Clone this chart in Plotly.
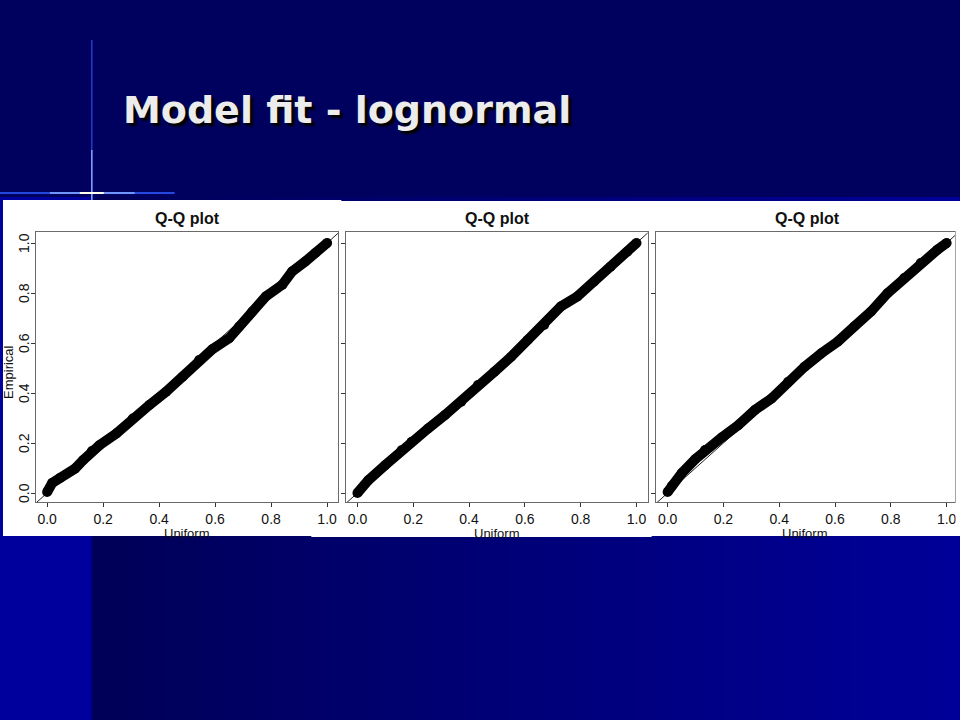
import plotly.graph_objects as go

W, H = 960, 720

# ---------------- data ----------------
slide_title = "Model fit - lognormal"
panel_title = "Q-Q plot"
x_label = "Uniform"
y_label = "Empirical"
tick_vals = [0.0, 0.2, 0.4, 0.6, 0.8, 1.0]
tick_text = ["0.0", "0.2", "0.4", "0.6", "0.8", "1.0"]

uniform_1 = [0.0, 0.018, 0.046, 0.1, 0.128, 0.16, 0.187, 0.247, 0.306, 0.365, 0.425,
             0.484, 0.543, 0.59, 0.65, 0.686, 0.733, 0.781, 0.84, 0.875, 0.922, 0.958, 1.0]
empirical_1 = [0.004, 0.04, 0.06, 0.098, 0.131, 0.168, 0.191, 0.238, 0.298, 0.352, 0.405,
               0.465, 0.532, 0.575, 0.619, 0.666, 0.726, 0.786, 0.833, 0.886, 0.926, 0.96, 1.0]

uniform_2 = [0.0, 0.039, 0.099, 0.158, 0.194, 0.253, 0.313, 0.372, 0.432, 0.491,
             0.551, 0.61, 0.669, 0.729, 0.788, 0.848, 0.907, 0.967, 1.0]
empirical_2 = [0.0, 0.051, 0.111, 0.171, 0.205, 0.258, 0.311, 0.365, 0.432, 0.485,
               0.545, 0.612, 0.672, 0.746, 0.786, 0.846, 0.905, 0.965, 1.0]

uniform_3 = [0.0, 0.015, 0.051, 0.099, 0.134, 0.194, 0.253, 0.313, 0.372, 0.432, 0.491,
             0.551, 0.61, 0.669, 0.729, 0.788, 0.848, 0.907, 0.967, 1.0]
empirical_3 = [0.004, 0.028, 0.08, 0.135, 0.172, 0.222, 0.271, 0.332, 0.378, 0.445, 0.505,
               0.559, 0.606, 0.666, 0.726, 0.799, 0.86, 0.92, 0.973, 1.0]

panels = [(uniform_1, empirical_1), (uniform_2, empirical_2), (uniform_3, empirical_3)]

# ---------------- layout geometry (pixels) ----------------
def px(x):
    return x / W

def py(y):
    return 1 - y / H

boxes = [  # left, right, top, bottom (pixels)
    (36, 339, 232, 502),
    (347, 649, 232, 502),
    (657, 957, 232, 502),
]
xranges = [[-0.04, 1.04], [-0.04, 1.04], [-0.043, 1.03]]
yrange = [-0.036, 1.044]

fig = go.Figure()

for i, (u, e) in enumerate(panels):
    sfx = "" if i == 0 else str(i + 1)
    fig.add_trace(go.Scatter(
        x=[-0.1, 1.1], y=[-0.1, 1.1], mode="lines",
        line=dict(color="#222222", width=1),
        xaxis="x" + sfx, yaxis="y" + sfx, hoverinfo="skip", showlegend=False))
    fig.add_trace(go.Scatter(
        x=u, y=e, mode="lines+markers",
        line=dict(color="#000000", width=10),
        marker=dict(color="#000000", size=10),
        xaxis="x" + sfx, yaxis="y" + sfx, showlegend=False, name=panel_title))

font_axis = dict(family="Liberation Sans, Arial, sans-serif", size=14, color="#111111")

layout_axes = {}
for i, (l, r, t, b) in enumerate(boxes):
    sfx = "" if i == 0 else str(i + 1)
    common = dict(showline=True, linecolor="#6a6a6a", linewidth=1, mirror=True,
                  ticks="outside", ticklen=4, tickcolor="#333333", tickwidth=1,
                  tickvals=tick_vals, ticktext=tick_text, showgrid=False,
                  zeroline=False, tickfont=font_axis, fixedrange=True,
                  ticklabeloverflow="allow")
    layout_axes["xaxis" + sfx] = dict(common, domain=[px(l), px(r)], range=xranges[i],
                                      anchor="y" + sfx)
    layout_axes["yaxis" + sfx] = dict(common, domain=[py(b), py(t)], range=yrange,
                                      anchor="x" + sfx, showticklabels=False)

fig.update_layout(**layout_axes)

# ---------------- background shapes ----------------
shapes = []
top_col = "#00005e"
shapes.append(dict(type="rect", xref="paper", yref="paper", x0=-0.01, x1=1.01, y0=py(197),
                   y1=1.01, fillcolor=top_col, line=dict(width=0), layer="below"))
shapes.append(dict(type="rect", xref="paper", yref="paper", x0=-0.01, x1=px(92), y0=-0.01,
                   y1=py(197), fillcolor="#00009c", line=dict(width=0), layer="below"))
n_strips = 48
c0, c1 = (0, 0, 88), (0, 0, 152)
for k in range(n_strips):
    f = k / (n_strips - 1)
    col = "rgb(%d,%d,%d)" % tuple(round(a + (b_ - a) * f) for a, b_ in zip(c0, c1))
    xa = 92 + (W - 92) * k / n_strips
    xb = 92 + (W - 92) * (k + 1) / n_strips + (0.5 if k < n_strips - 1 else 10)
    shapes.append(dict(type="rect", xref="paper", yref="paper", x0=px(xa), x1=px(xb),
                       y0=-0.01, y1=py(197), fillcolor=col, line=dict(width=0),
                       layer="below"))

# decorative lines
shapes.append(dict(type="line", xref="paper", yref="paper", x0=px(0), x1=px(175),
                   y0=py(193), y1=py(193), line=dict(color="#2448e0", width=2), layer="below"))
shapes.append(dict(type="line", xref="paper", yref="paper", x0=px(50), x1=px(135),
                   y0=py(193), y1=py(193), line=dict(color="#6f95ff", width=2), layer="below"))
shapes.append(dict(type="line", xref="paper", yref="paper", x0=px(92), x1=px(92),
                   y0=py(40), y1=py(200), line=dict(color="#1f3fc8", width=1.5), layer="below"))
shapes.append(dict(type="line", xref="paper", yref="paper", x0=px(92), x1=px(92),
                   y0=py(150), y1=py(200), line=dict(color="#7f9fff", width=1.5), layer="below"))
shapes.append(dict(type="line", xref="paper", yref="paper", x0=px(80), x1=px(104),
                   y0=py(193), y1=py(193), line=dict(color="#ffffee", width=2), layer="below"))

# white picture areas (slightly overlapping to avoid seams)
for (l, r, t, b) in [(3, 342, 200, 536), (312, 653, 201, 537), (647, 975, 201, 536)]:
    shapes.append(dict(type="rect", xref="paper", yref="paper", x0=px(l), x1=px(r),
                       y0=py(b), y1=py(t), fillcolor="#ffffff", line=dict(width=0),
                       layer="below"))
# right margin of the last picture, kept white on top
shapes.append(dict(type="rect", xref="paper", yref="paper", x0=px(957.6), x1=px(975),
                   y0=py(536), y1=py(201), fillcolor="#ffffff", line=dict(width=0),
                   layer="above"))

# ---------------- annotations ----------------
ann = []
ann.append(dict(text="<b>%s</b>" % slide_title, xref="paper", yref="paper",
                x=px(121), y=py(110), xanchor="left", yanchor="middle", showarrow=False,
                font=dict(family="DejaVu Sans, Verdana, sans-serif", size=38, color="#ececec",
                          shadow="3px 3px 2px #000000")))
title_x = [188, 499, 809]
for i, (l, r, t, b) in enumerate(boxes):
    ann.append(dict(text="<b>%s</b>" % panel_title, xref="paper", yref="paper",
                    x=px(title_x[i]), y=py(218), xanchor="center", yanchor="middle",
                    showarrow=False,
                    font=dict(family="Liberation Sans, Arial, sans-serif", size=16,
                              color="#111111")))
    ann.append(dict(text=x_label, xref="paper", yref="paper",
                    x=px((l + r) / 2), y=py(533), xanchor="center", yanchor="middle",
                    showarrow=False,
                    font=dict(family="Liberation Sans, Arial, sans-serif", size=13,
                              color="#111111")))
# y tick labels of the first panel (rotated, R style)
for v, t in zip(tick_vals, tick_text):
    ann.append(dict(text=t, xref="paper", yref="y", x=px(24), y=v,
                    xanchor="center", yanchor="middle", textangle=-90, showarrow=False,
                    font=font_axis))
ann.append(dict(text=y_label, xref="paper", yref="paper", x=px(8), y=py(372),
                xanchor="center", yanchor="middle", textangle=-90, showarrow=False,
                font=dict(family="Liberation Sans, Arial, sans-serif", size=13,
                          color="#111111")))

fig.update_layout(
    width=W, height=H, margin=dict(l=0, r=0, t=0, b=0),
    paper_bgcolor=top_col, plot_bgcolor="#ffffff",
    shapes=shapes, annotations=ann, showlegend=False,
)

fig.write_html(
    "out.html",
    config={"displayModeBar": False},
    post_script="document.body.style.margin='0';document.body.style.overflow='hidden';"
                "document.body.style.background='#ffffff';",
)
